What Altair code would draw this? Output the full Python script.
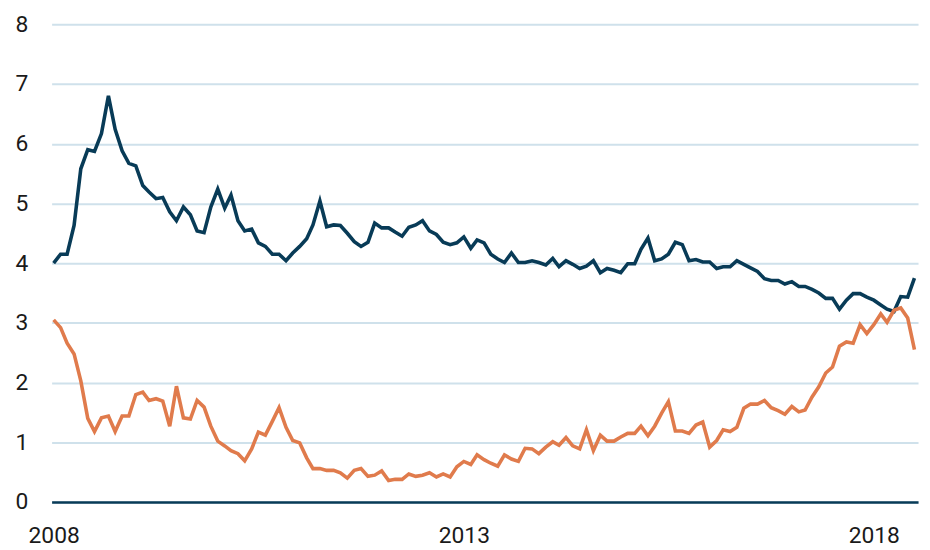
import altair as alt
import pandas as pd

start_month = "2008-01-01"

navy_series = [
    4.00, 4.15, 4.15, 4.63, 5.58, 5.90, 5.87, 6.17, 6.80, 6.24,
    5.88, 5.67, 5.63, 5.30, 5.19, 5.08, 5.10, 4.86, 4.71, 4.94,
    4.81, 4.54, 4.51, 4.94, 5.24, 4.92, 5.14, 4.71, 4.54, 4.57,
    4.34,
    4.28, 4.15, 4.15, 4.04, 4.17, 4.28, 4.41, 4.64, 5.04, 4.61,
    4.64, 4.63, 4.50, 4.36, 4.28, 4.35, 4.67, 4.59, 4.59, 4.52,
    4.45, 4.60, 4.64, 4.71, 4.54, 4.48, 4.35, 4.31, 4.34, 4.44,
    4.25, 4.39,
    4.34, 4.15, 4.07, 4.01, 4.17, 4.01, 4.01, 4.04, 4.01, 3.97,
    4.08, 3.94, 4.04, 3.98, 3.91, 3.95, 4.04, 3.84, 3.91, 3.88,
    3.84, 3.99, 3.99, 4.23, 4.42, 4.04, 4.07, 4.15, 4.35, 4.31,
    4.04, 4.06,
    4.02, 4.02, 3.91, 3.94, 3.94, 4.04, 3.98, 3.92, 3.86, 3.74,
    3.71, 3.71, 3.65, 3.69, 3.61, 3.61, 3.56, 3.50, 3.41, 3.41,
    3.23, 3.38, 3.49, 3.49, 3.43, 3.38, 3.30, 3.23, 3.19, 3.44,
    3.43, 3.75,
]

orange_series = [
    3.05, 2.92, 2.66, 2.48, 2.03, 1.40, 1.18, 1.41, 1.44, 1.18,
    1.44, 1.44, 1.80, 1.84, 1.70, 1.73, 1.69, 1.27, 1.94, 1.41,
    1.39, 1.70, 1.59, 1.27, 1.02, 0.94, 0.86, 0.81, 0.69, 0.89,
    1.17,
    1.12, 1.35, 1.58, 1.25, 1.03, 0.99, 0.74, 0.56, 0.56, 0.53,
    0.53, 0.49, 0.40, 0.53, 0.56, 0.43, 0.45, 0.52, 0.36, 0.38,
    0.38, 0.47, 0.43, 0.45, 0.49, 0.42, 0.47, 0.42, 0.59, 0.68,
    0.63, 0.79,
    0.71, 0.65, 0.60, 0.79, 0.72, 0.68, 0.90, 0.89, 0.81, 0.92,
    1.01, 0.95, 1.08, 0.94, 0.89, 1.21, 0.86, 1.12, 1.02, 1.02,
    1.09, 1.15, 1.15, 1.27, 1.11, 1.27, 1.49, 1.68, 1.19, 1.19,
    1.15, 1.29,
    1.34, 0.92, 1.03, 1.21, 1.18, 1.25, 1.57, 1.64, 1.64, 1.70,
    1.58, 1.53, 1.47, 1.60, 1.51, 1.54, 1.76, 1.93, 2.16, 2.26,
    2.61, 2.68, 2.66, 2.97, 2.82, 2.97, 3.15, 3.01, 3.21, 3.25,
    3.08, 2.55,
]

year_ticks = [2008, 2013, 2018]
y_ticks = [0, 1, 2, 3, 4, 5, 6, 7, 8]

NAVY = "#083b57"
ORANGE = "#e07b4c"
GRID = "#cfe1eb"
FONT = "Roboto"
FONT_SIZE = 23

dates = pd.date_range(start_month, periods=len(navy_series), freq="MS")
df = pd.DataFrame({"date": dates, "navy": navy_series, "orange": orange_series})

x_enc = alt.X(
    "date:T",
    scale=alt.Scale(domain=[alt.DateTime(year=2007, month=12, date=23),
                            alt.DateTime(year=2018, month=7, date=17)]),
    axis=alt.Axis(
        values=[alt.DateTime(year=y, month=1, date=1) for y in year_ticks],
        format="%Y",
        title=None,
        grid=False,
        ticks=False,
        tickSize=0,
        domain=True,
        domainColor=NAVY,
        domainWidth=2.5,
        labelFont=FONT,
        labelFontSize=FONT_SIZE,
        labelColor="#1a1a1a",
        labelPadding=23,
        labelFlush=False,
    ),
)

y_axis = alt.Axis(
    values=y_ticks,
    title=None,
    grid=True,
    gridColor=GRID,
    gridWidth=2,
    domain=False,
    ticks=False,
    tickSize=0,
    labelFont=FONT,
    labelFontSize=FONT_SIZE,
    labelColor="#1a1a1a",
    labelPadding=24,
)

navy_line = alt.Chart(df).mark_line(color=NAVY, strokeWidth=3.6, strokeJoin="miter").encode(
    x=x_enc,
    y=alt.Y("navy:Q", scale=alt.Scale(domain=[0, 8], nice=False), axis=y_axis),
)
orange_line = alt.Chart(df).mark_line(color=ORANGE, strokeWidth=3.6, strokeJoin="miter").encode(
    x=x_enc,
    y=alt.Y("orange:Q", scale=alt.Scale(domain=[0, 8], nice=False), axis=y_axis),
)

chart = (
    alt.layer(navy_line, orange_line)
    .properties(
        width=874,
        height=482,
        autosize=alt.AutoSizeParams(type="none"),
        padding={"left": 44, "top": 14, "right": 4, "bottom": 46},
        background="white",
    )
    .configure_view(stroke=None)
)

chart.save("out.html", embed_options={"renderer": "svg", "actions": False})
